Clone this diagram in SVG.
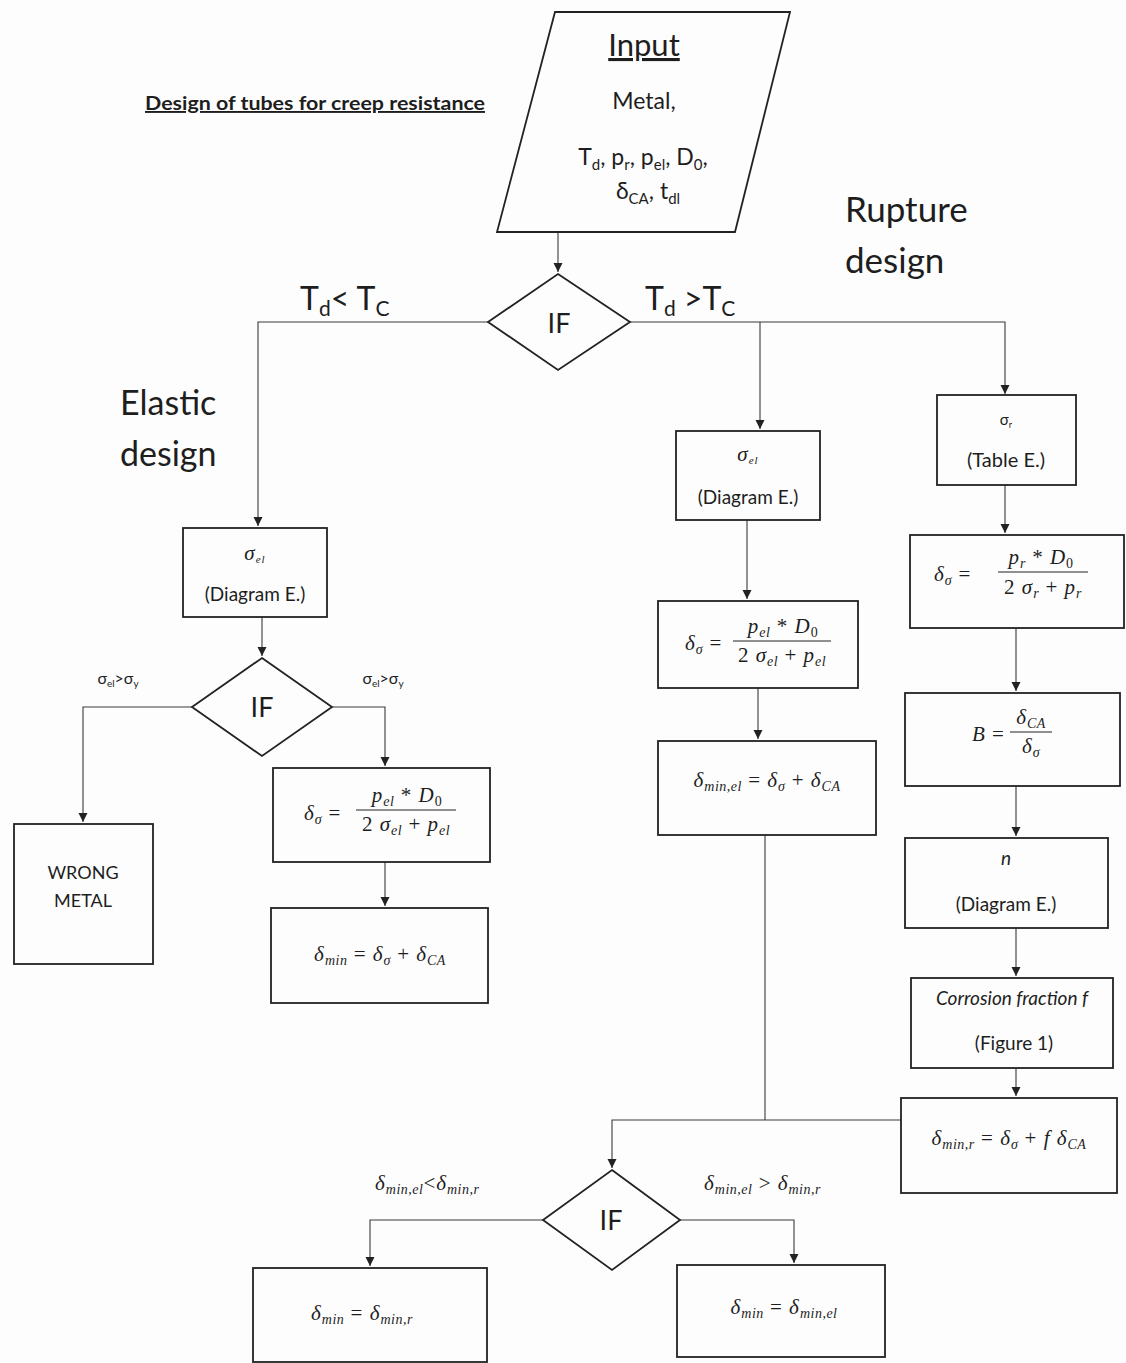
<svg xmlns="http://www.w3.org/2000/svg" width="1126" height="1363" viewBox="0 0 1126 1363">
<style>
.bg{fill:#fdfdfd}
.box{fill:none;stroke:#222;stroke-width:1.8}
.con{fill:none;stroke:#3a3a3a;stroke-width:1.1}
.sans{font-family:Lato,"Liberation Sans",sans-serif;fill:#1e1e1e}
.math{font-family:"Liberation Serif","DejaVu Serif",serif;font-style:italic;fill:#1e1e1e;font-size:21px;letter-spacing:1px}
.up{font-style:normal}
.sub{font-size:14px;letter-spacing:0.5px}
.mid{font-size:19px}
.frac{stroke:#222;stroke-width:1.1}
</style>
<defs>
<marker id="ah" viewBox="0 0 10 10" refX="10" refY="5" markerWidth="9" markerHeight="10" markerUnits="userSpaceOnUse" orient="auto">
<path d="M0,0 L10,5 L0,10 z" fill="#222"/>
</marker>
</defs>
<rect class="bg" x="0" y="0" width="1126" height="1363"/>

<g id="title">
<text class="sans" x="145" y="110" font-size="19" font-weight="bold" text-decoration="underline" textLength="340" lengthAdjust="spacingAndGlyphs">Design of tubes for creep resistance</text>
</g>

<g id="labels">
<text class="sans" x="845" y="222" font-size="35">Rupture</text>
<text class="sans" x="845" y="273" font-size="35">design</text>
<text class="sans" x="120" y="415" font-size="34">Elastic</text>
<text class="sans" x="120" y="466" font-size="34">design</text>
<text class="sans" x="300" y="310" font-size="32">T<tspan font-size="21" dy="6">d</tspan><tspan dy="-6">&lt; T</tspan><tspan font-size="21" dy="6">C</tspan></text>
<text class="sans" x="645" y="310" font-size="32">T<tspan font-size="21" dy="6">d</tspan><tspan dy="-6"> &gt;T</tspan><tspan font-size="21" dy="6">C</tspan></text>
<text class="sans" x="118" y="684" font-size="16" text-anchor="middle">σ<tspan font-size="10" dy="3">el</tspan><tspan dy="-3">&gt;σ</tspan><tspan font-size="10" dy="3">y</tspan></text>
<text class="sans" x="383" y="684" font-size="16" text-anchor="middle">σ<tspan font-size="10" dy="3">el</tspan><tspan dy="-3">&gt;σ</tspan><tspan font-size="10" dy="3">y</tspan></text>
<text class="math" x="375" y="1190">δ<tspan class="sub" dy="4">min,el</tspan><tspan class="up" dy="-4">&lt;</tspan>δ<tspan class="sub" dy="4">min,r</tspan></text>
<text class="math" x="704" y="1190">δ<tspan class="sub" dy="4">min,el</tspan><tspan class="up" dy="-4"> &gt; </tspan>δ<tspan class="sub" dy="4">min,r</tspan></text>
</g>

<g id="connectors">
<path class="con" d="M558,232 V272" marker-end="url(#ah)"/>
<path class="con" d="M488,322 H258 V526" marker-end="url(#ah)"/>
<path class="con" d="M630,322 H1005 V394" marker-end="url(#ah)"/>
<path class="con" d="M760,322 V429" marker-end="url(#ah)"/>
<path class="con" d="M262,617 V656" marker-end="url(#ah)"/>
<path class="con" d="M192,707 H83 V822" marker-end="url(#ah)"/>
<path class="con" d="M332,707 H385 V766" marker-end="url(#ah)"/>
<path class="con" d="M385,862 V906" marker-end="url(#ah)"/>
<path class="con" d="M747,520 V599" marker-end="url(#ah)"/>
<path class="con" d="M758,688 V739" marker-end="url(#ah)"/>
<path class="con" d="M765,835 V1120"/>
<path class="con" d="M901,1120 H612 V1168" marker-end="url(#ah)"/>
<path class="con" d="M1005,485 V533" marker-end="url(#ah)"/>
<path class="con" d="M1016,628 V691" marker-end="url(#ah)"/>
<path class="con" d="M1016,786 V836" marker-end="url(#ah)"/>
<path class="con" d="M1016,928 V976" marker-end="url(#ah)"/>
<path class="con" d="M1016,1068 V1096" marker-end="url(#ah)"/>
<path class="con" d="M543,1220 H370 V1266" marker-end="url(#ah)"/>
<path class="con" d="M680,1220 H794 V1263" marker-end="url(#ah)"/>
</g>

<g id="input">
<polygon class="box" points="555,12 790,12 735,232 497,232"/>
<text class="sans" x="644" y="56" font-size="31" text-anchor="middle" text-decoration="underline">Input</text>
<text class="sans" x="644" y="109" font-size="23" text-anchor="middle">Metal,</text>
<text class="sans" x="643" y="165" font-size="23" text-anchor="middle">T<tspan font-size="15" dy="5">d</tspan><tspan dy="-5">, p</tspan><tspan font-size="15" dy="5">r</tspan><tspan dy="-5">, p</tspan><tspan font-size="15" dy="5">el</tspan><tspan dy="-5">, D</tspan><tspan font-size="15" dy="5">0</tspan><tspan dy="-5">,</tspan></text>
<text class="sans" x="648" y="199" font-size="23" text-anchor="middle">δ<tspan font-size="15" dy="5">CA</tspan><tspan dy="-5">, t</tspan><tspan font-size="15" dy="5">dl</tspan></text>
</g>

<g id="if1">
<polygon class="box" points="558,274 630,322 558,370 488,322"/>
<text class="sans" x="559" y="333" font-size="27" text-anchor="middle">IF</text>
</g>

<g id="sigma-el-left">
<rect class="box" x="183" y="528" width="144" height="89"/>
<text class="math" x="255" y="560" text-anchor="middle" font-size="17">σ<tspan font-size="11" dy="3">el</tspan></text>
<text class="sans mid" x="255" y="601" text-anchor="middle">(Diagram E.)</text>
</g>

<g id="if2">
<polygon class="box" points="262,658 332,707 262,756 192,707"/>
<text class="sans" x="262" y="717" font-size="27" text-anchor="middle">IF</text>
</g>

<g id="wrong-metal">
<rect class="box" x="14" y="824" width="139" height="140"/>
<text class="sans" x="83" y="879" font-size="18" text-anchor="middle">WRONG</text>
<text class="sans" x="83" y="907" font-size="18" text-anchor="middle">METAL</text>
</g>

<g id="delta-sigma-left">
<rect class="box" x="273" y="768" width="217" height="94"/>
<text class="math" x="304" y="820">δ<tspan class="sub" dy="4">σ</tspan><tspan class="up" dy="-4"> =</tspan></text>
<line class="frac" x1="356" y1="810" x2="456" y2="810"/>
<text class="math" x="407" y="802" text-anchor="middle">p<tspan class="sub" dy="4">el</tspan><tspan class="up" dy="-4"> * </tspan>D<tspan class="sub up" dy="4">0</tspan></text>
<text class="math" x="406" y="831" text-anchor="middle"><tspan class="up">2 </tspan>σ<tspan class="sub" dy="4">el</tspan><tspan class="up" dy="-4"> + </tspan>p<tspan class="sub" dy="4">el</tspan></text>
</g>

<g id="delta-min-left">
<rect class="box" x="271" y="908" width="217" height="95"/>
<text class="math" x="380" y="961" text-anchor="middle">δ<tspan class="sub" dy="4">min</tspan><tspan class="up" dy="-4"> = </tspan>δ<tspan class="sub" dy="4">σ</tspan><tspan class="up" dy="-4"> + </tspan>δ<tspan class="sub" dy="4">CA</tspan></text>
</g>

<g id="sigma-el-mid">
<rect class="box" x="676" y="431" width="144" height="89"/>
<text class="math" x="748" y="461" text-anchor="middle" font-size="17">σ<tspan font-size="11" dy="3">el</tspan></text>
<text class="sans mid" x="748" y="504" text-anchor="middle">(Diagram E.)</text>
</g>

<g id="delta-sigma-mid">
<rect class="box" x="658" y="601" width="200" height="87"/>
<text class="math" x="685" y="650">δ<tspan class="sub" dy="4">σ</tspan><tspan class="up" dy="-4"> =</tspan></text>
<line class="frac" x1="733" y1="641" x2="831" y2="641"/>
<text class="math" x="783" y="633" text-anchor="middle">p<tspan class="sub" dy="4">el</tspan><tspan class="up" dy="-4"> * </tspan>D<tspan class="sub up" dy="4">0</tspan></text>
<text class="math" x="782" y="662" text-anchor="middle"><tspan class="up">2 </tspan>σ<tspan class="sub" dy="4">el</tspan><tspan class="up" dy="-4"> + </tspan>p<tspan class="sub" dy="4">el</tspan></text>
</g>

<g id="delta-min-el">
<rect class="box" x="658" y="741" width="218" height="94"/>
<text class="math" x="767" y="787" text-anchor="middle">δ<tspan class="sub" dy="4">min,el</tspan><tspan class="up" dy="-4"> = </tspan>δ<tspan class="sub" dy="4">σ</tspan><tspan class="up" dy="-4"> + </tspan>δ<tspan class="sub" dy="4">CA</tspan></text>
</g>

<g id="sigma-r">
<rect class="box" x="937" y="395" width="139" height="90"/>
<text class="sans" x="1006" y="425" font-size="15" text-anchor="middle">σ<tspan font-size="9" dy="3">r</tspan></text>
<text class="sans" x="1006" y="467" font-size="20" text-anchor="middle">(Table E.)</text>
</g>

<g id="delta-sigma-r">
<rect class="box" x="910" y="535" width="214" height="93"/>
<text class="math" x="934" y="581">δ<tspan class="sub" dy="4">σ</tspan><tspan class="up" dy="-4"> =</tspan></text>
<line class="frac" x1="998" y1="572" x2="1088" y2="572"/>
<text class="math" x="1041" y="564" text-anchor="middle">p<tspan class="sub" dy="4">r</tspan><tspan class="up" dy="-4"> * </tspan>D<tspan class="sub up" dy="4">0</tspan></text>
<text class="math" x="1043" y="594" text-anchor="middle"><tspan class="up">2 </tspan>σ<tspan class="sub" dy="4">r</tspan><tspan class="up" dy="-4"> +  </tspan>p<tspan class="sub" dy="4">r</tspan></text>
</g>

<g id="b-ratio">
<rect class="box" x="905" y="693" width="215" height="93"/>
<text class="math" x="972" y="741">B<tspan class="up"> =</tspan></text>
<line class="frac" x1="1010" y1="732" x2="1052" y2="732"/>
<text class="math" x="1031" y="724" text-anchor="middle">δ<tspan class="sub" dy="4">CA</tspan></text>
<text class="math" x="1031" y="753" text-anchor="middle">δ<tspan class="sub" dy="4">σ</tspan></text>
</g>

<g id="n-box">
<rect class="box" x="905" y="838" width="203" height="90"/>
<text class="sans" x="1006" y="865" font-size="19" text-anchor="middle" font-style="italic">n</text>
<text class="sans mid" x="1006" y="911" text-anchor="middle">(Diagram E.)</text>
</g>

<g id="corrosion">
<rect class="box" x="911" y="978" width="202" height="90"/>
<text class="sans" x="1012" y="1005" font-size="19" text-anchor="middle" font-style="italic">Corrosion fraction f</text>
<text class="sans mid" x="1014" y="1050" text-anchor="middle">(Figure 1)</text>
</g>

<g id="delta-min-r">
<rect class="box" x="901" y="1098" width="216" height="95"/>
<text class="math" x="1009" y="1145" text-anchor="middle">δ<tspan class="sub" dy="4">min,r</tspan><tspan class="up" dy="-4"> = </tspan>δ<tspan class="sub" dy="4">σ</tspan><tspan class="up" dy="-4"> + </tspan>f δ<tspan class="sub" dy="4">CA</tspan></text>
</g>

<g id="if3">
<polygon class="box" points="612,1170 680,1220 612,1270 543,1220"/>
<text class="sans" x="611" y="1230" font-size="27" text-anchor="middle">IF</text>
</g>

<g id="result-r">
<rect class="box" x="253" y="1268" width="234" height="94"/>
<text class="math" x="362" y="1320" text-anchor="middle">δ<tspan class="sub" dy="4">min</tspan><tspan class="up" dy="-4"> = </tspan>δ<tspan class="sub" dy="4">min,r</tspan></text>
</g>

<g id="result-el">
<rect class="box" x="677" y="1265" width="208" height="92"/>
<text class="math" x="784" y="1314" text-anchor="middle">δ<tspan class="sub" dy="4">min</tspan><tspan class="up" dy="-4"> = </tspan>δ<tspan class="sub" dy="4">min,el</tspan></text>
</g>
</svg>
